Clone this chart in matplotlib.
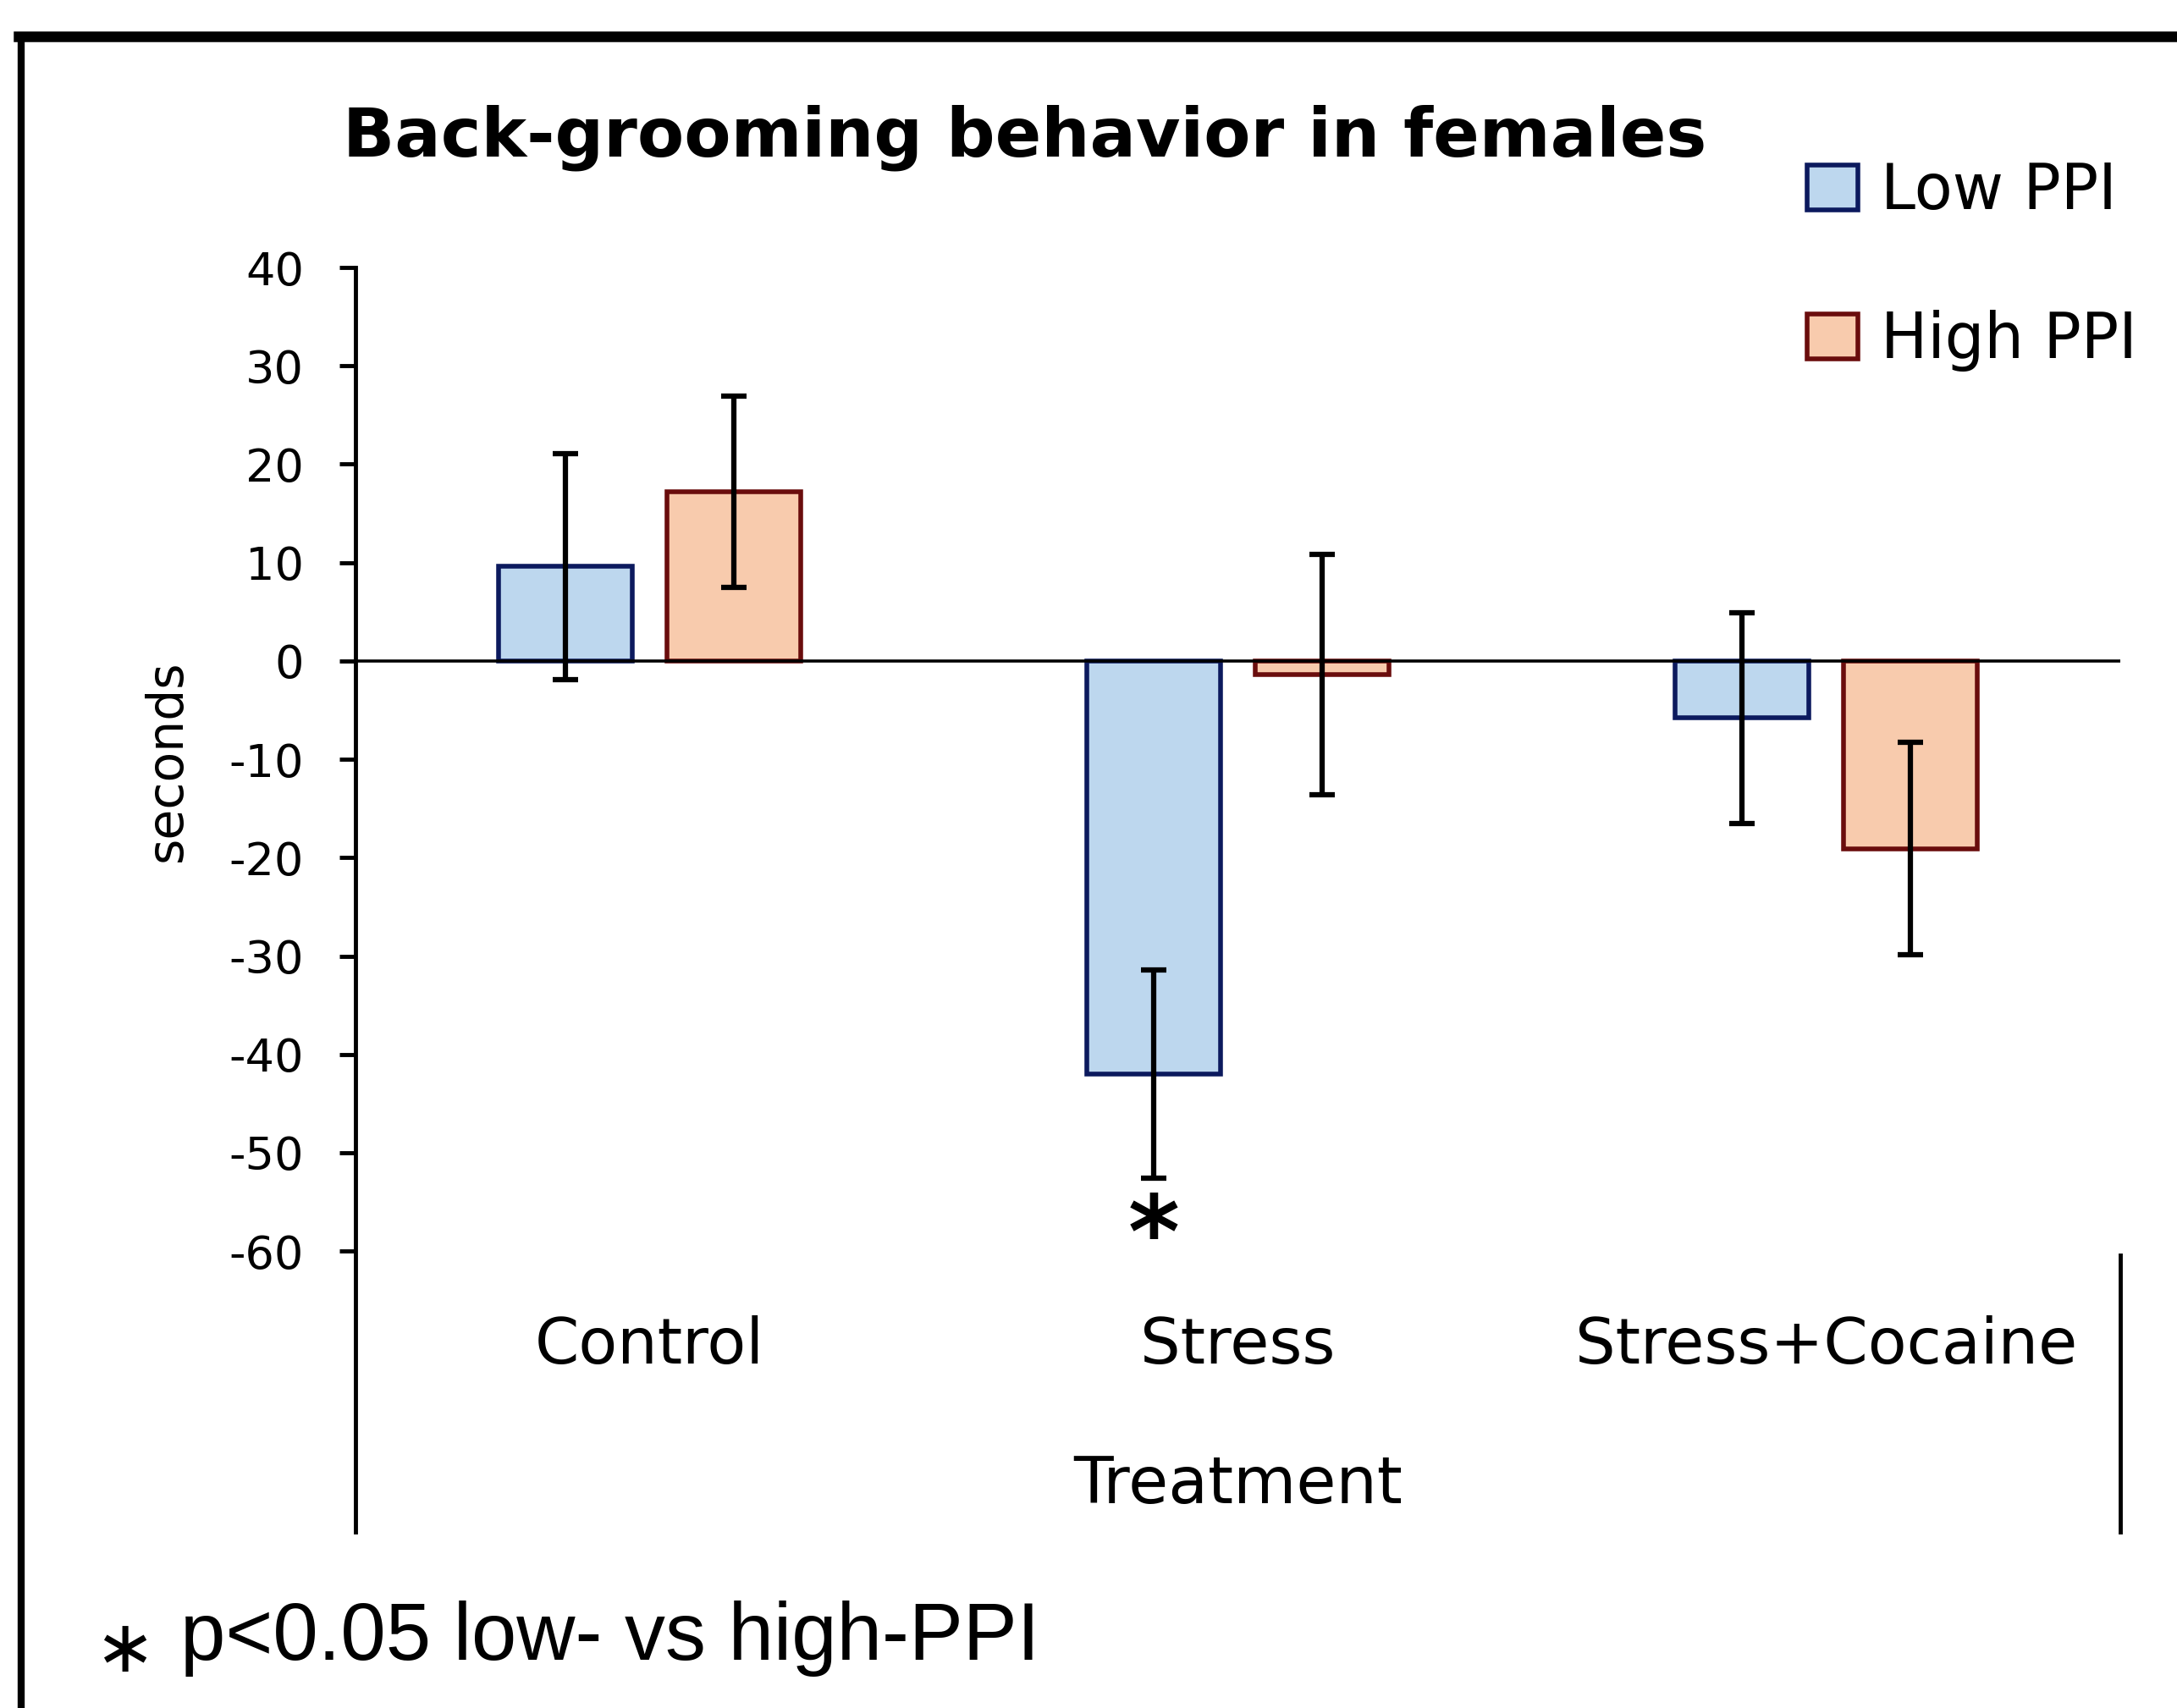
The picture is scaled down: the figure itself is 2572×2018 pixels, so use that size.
import numpy as np
import matplotlib
matplotlib.use('Agg')
import matplotlib.pyplot as plt
from matplotlib.patches import Patch
from matplotlib.lines import Line2D

# data (seconds, mean +/- error)
categories = ['Control', 'Stress', 'Stress+Cocaine']
low_ppi = [9.6, -42.0, -5.8]
low_err = [11.5, 10.6, 10.7]
high_ppi = [17.2, -1.4, -19.1]
high_err = [9.7, 12.2, 10.8]
y_ticks = [40, 30, 20, 10, 0, -10, -20, -30, -40, -50, -60]
series_names = ['Low PPI', 'High PPI']

plt.rcParams['font.family'] = ['DejaVu Sans']

W, H = 2572, 2018
fig = plt.figure(figsize=(W / 100, H / 100), dpi=100)
ax = fig.add_axes([420 / W, 1 - 1810 / H, (2505 - 420) / W, (1810 - 316) / H])

x = np.arange(len(categories))
bw = 0.227
off = 0.143
low_fill, low_edge = '#bdd7ee', '#0c1a5e'
high_fill, high_edge = '#f8cbad', '#6a0d0d'

ax.bar(x - off, low_ppi, bw, color=low_fill, edgecolor=low_edge, linewidth=4, zorder=2)
ax.bar(x + off, high_ppi, bw, color=high_fill, edgecolor=high_edge, linewidth=4, zorder=2)
ax.errorbar(x - off, low_ppi, yerr=low_err, fmt='none', ecolor='black', elinewidth=4.5,
            capsize=11, capthick=4.5, zorder=4)
ax.errorbar(x + off, high_ppi, yerr=high_err, fmt='none', ecolor='black', elinewidth=4.5,
            capsize=11, capthick=4.5, zorder=4)
ax.axhline(0, color='black', lw=2.6, zorder=3)

ax.set_xlim(-0.5, 2.5)
ax.set_ylim(-88.55, 40)
ax.set_yticks(y_ticks)
ax.set_yticklabels([str(t) for t in y_ticks])
ax.set_xticks([])
for s in ['top', 'right', 'bottom']:
    ax.spines[s].set_visible(False)
ax.spines['left'].set_linewidth(3.5)
ax.tick_params(axis='y', direction='out', length=14, width=3.5, labelsize=39, pad=30)

# right divider line of the category axis (Excel style)
ax.plot([2.5, 2.5], [-60.4, -88.55], color='black', lw=3.5, clip_on=False)

for i, c in enumerate(categories):
    ax.text(x[i], -69.7, c, ha='center', va='center', fontsize=54)
ax.text(1, -83.8, 'Treatment', ha='center', va='center', fontsize=55)

# significance marker
ax.text(x[1] - off, -58.8, '*', ha='center', va='center', fontsize=84,
        fontweight='bold')

fig.text(197 / W, 1 - 899 / H, 'seconds', rotation=90, ha='center', va='center', fontsize=42)
fig.text(1211 / W, 1 - 184 / H, 'Back-grooming behavior in females', ha='center',
         va='baseline', fontsize=58, fontweight='bold')

handles = [Patch(facecolor=low_fill, edgecolor=low_edge, linewidth=4),
           Patch(facecolor=high_fill, edgecolor=high_edge, linewidth=4)]
fig.legend(handles, series_names, loc='upper left', bbox_to_anchor=(2135 / W, 1 - 190 / H),
           frameon=False, fontsize=53, handlelength=0.82, handleheight=0.74,
           handletextpad=0.36, labelspacing=1.4, borderpad=0, borderaxespad=0)

# footnote
fig.text(147 / W, 1 - 1975 / H, '\u2217', ha='center', va='baseline', fontsize=62)
fig.text(213 / W, 1 - 1961 / H, 'p<0.05 low- vs high-PPI', ha='left', va='baseline',
         fontsize=69, family=['Liberation Sans', 'DejaVu Sans'])

# outer frame (top and left edges)
fig.add_artist(Line2D([22 / W, 1], [1 - 43 / H, 1 - 43 / H], color='black', lw=9))
fig.add_artist(Line2D([25 / W, 25 / W], [0, 1 - 43 / H], color='black', lw=6))

fig.savefig('out.png', dpi=100, facecolor='white')
